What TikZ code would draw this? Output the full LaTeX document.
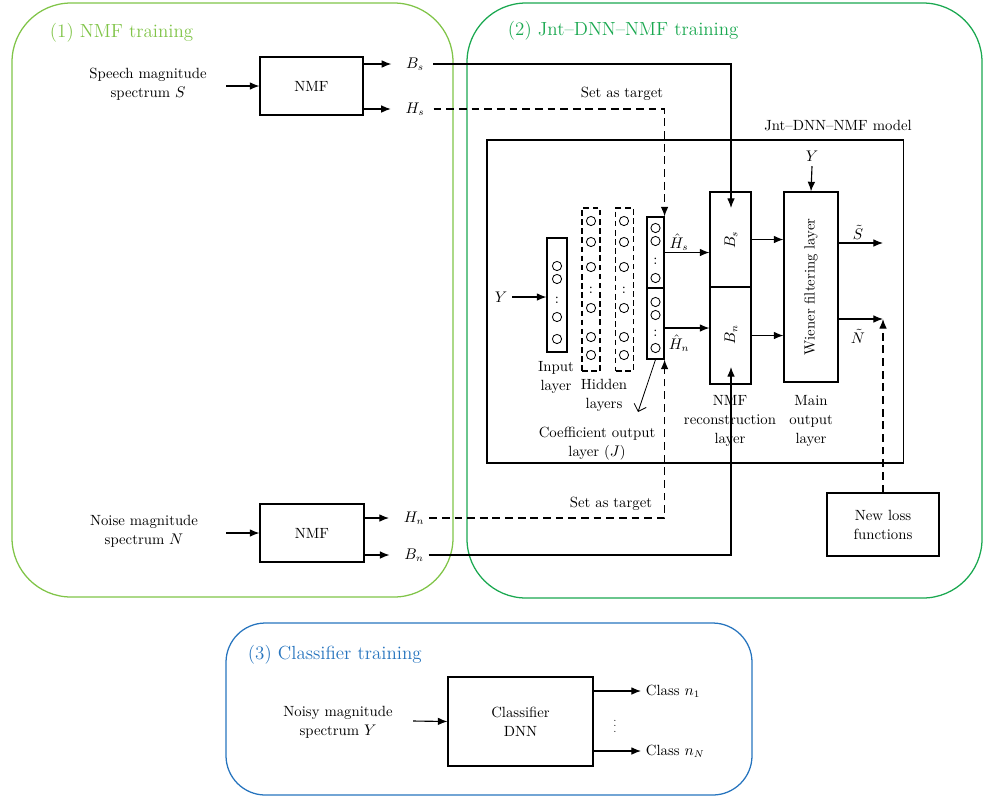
\documentclass[tikz,border=0pt]{standalone}
\usepackage{amsmath}
\usetikzlibrary{arrows.meta,positioning,calc}
\definecolor{nmfgreen}{RGB}{128,196,72}
\definecolor{jntgreen}{RGB}{26,168,80}
\definecolor{clfblue}{RGB}{38,116,190}

\begin{document}
\begin{tikzpicture}[x=0.025cm, y=-0.025cm,
  font=\fontsize{10.5}{13.5}\selectfont,
  block/.style={draw, line width=0.8pt, align=center, inner sep=0pt},
  hidden/.style={draw, dashed, dash pattern=on 4pt off 2.5pt, line width=0.8pt, inner sep=0pt},
  neuron/.style={circle, draw, line width=0.6pt, inner sep=0pt, minimum size=0.23cm},
  arrow/.style={-{Latex[length=2.4mm,width=1.9mm]}, line width=0.8pt},
  target/.style={arrow, dash pattern=on 5.5pt off 3.5pt},
  lbl/.style={align=center},
  title/.style={font=\fontsize{13.5}{16}\selectfont, anchor=west}
]
\useasboundingbox (0,0) rectangle (983,798);

% training areas
\draw[nmfgreen, line width=0.9pt, rounded corners=42pt] (12,3) rectangle (453,597);
\draw[jntgreen, line width=0.9pt, rounded corners=42pt] (467,3) rectangle (982,598);
\draw[clfblue, line width=0.9pt, rounded corners=28pt] (226,623) rectangle (752,795);
\node[title, text=nmfgreen] (title1) at (45,33) {(1) NMF training};
\node[title, text=jntgreen] (title2) at (503,31) {(2) Jnt--DNN--NMF training};
\node[title, text=clfblue] (title3) at (243,655) {(3) Classifier training};

% (1) NMF training
\node[lbl] (specS) at (148,84) {Speech magnitude\\spectrum $S$};
\node[lbl] (specN) at (144,531) {Noise magnitude\\spectrum $N$};
\coordinate (inS) at (226,86);
\coordinate (inN) at (226,533);
\node[block, minimum width=2.575cm, minimum height=1.45cm] (nmfS) at (311.5,86) {NMF};
\node[block, minimum width=2.6cm, minimum height=1.45cm] (nmfN) at (312,533) {NMF};
\node (lblBs) at (415,64) {$B_s$};
\node (lblHs) at (415,109) {$H_s$};
\node (lblHn) at (414,518) {$H_n$};
\node (lblBn) at (414,555) {$B_n$};
\draw[arrow] (inS) -- (nmfS.west);
\draw[arrow] (inN) -- (nmfN.west);
\foreach \src/\lab in {nmfS/lblBs,nmfS/lblHs,nmfN/lblHn,nmfN/lblBn}
  \draw[arrow, shorten >=7pt] (\src.east |- \lab) -- (\lab.west);

% (2) Jnt-DNN-NMF model
\node[block, minimum width=10.4cm, minimum height=8.075cm] (model) at (695,301.5) {};
\node (modelLbl) at (838,126) {Jnt--DNN--NMF model};

% DNN layers
\node[block, minimum width=0.5cm, minimum height=2.85cm] (inp) at (557,295) {};
\node[hidden, minimum width=0.45cm, minimum height=4.075cm] (hidA) at (591,289.5) {};
\node[hidden, minimum width=0.43cm, minimum height=4.075cm] (hidB) at (624.5,289.5) {};
\node[block, minimum width=0.425cm, minimum height=1.775cm] (coefT) at (655.5,252.5) {};
\node[block, minimum width=0.425cm, minimum height=1.775cm] (coefB) at (655.5,323.5) {};
\foreach \y in {266,279,317,339}
  \node[neuron] (in\y) at (557,\y) {};
\node (inDots) at (557,300) {:};
\foreach \x/\h in {591/A,624/B} {
  \foreach \y in {221,242,267,308,337,355}
    \node[neuron] (h\h\y) at (\x,\y) {};
  \node (hDots\h) at (\x,290) {:};
}
\foreach \y in {228,241,278,302,315,348}
  \node[neuron] (c\y) at (655.5,\y) {};
\node (cDotsT) at (655.5,261) {:};
\node (cDotsB) at (655.5,333) {:};

\node (lblY) at (501,297) {$Y$};
\draw[arrow] (lblY.east) -- (lblY.east -| inp.west);

\node[lbl] (inpLbl) at (556,377) {Input\\layer};
\node[lbl] (hidLbl) at (604,395) {Hidden\\layers};
\node[lbl] (coefLbl) at (597,444) {Coefficient output\\layer ($J$)};
\coordinate (coefPtr) at (638,412);
\draw[line width=0.6pt, -{Straight Barb[length=1.6mm]}] (coefB.south) -- (coefPtr);

% NMF reconstruction and Wiener layers
\node[block, minimum width=1.025cm, minimum height=2.375cm] (recBs) at (730.5,239.5) {};
\node[block, minimum width=1.025cm, minimum height=2.425cm] (recBn) at (730.5,335.5) {};
\node[rotate=90] at (731,240) {$B_s$};
\node[rotate=90] at (731,335) {$B_n$};
\node[block, minimum width=1.35cm, minimum height=4.75cm] (wien) at (811,287) {};
\node[rotate=90] (wienLbl) at (811,287) {Wiener filtering layer};
\node[lbl] (recLbl) at (730,421) {NMF\\reconstruction\\layer};
\node[lbl] (mainLbl) at (811,421) {Main\\output\\layer};

\node (lblHsHat) at (679,242) {$\hat{H}_s$};
\node (lblHnHat) at (679,343) {$\hat{H}_n$};
\draw[arrow] (coefT.east) -- (coefT.east -| recBs.west);
\draw[arrow] (coefB.east |- 0,328) -- (recBn.west |- 0,328);
\draw[arrow] (recBs.east) -- (recBs.east -| wien.west);
\draw[arrow] (recBn.east) -- (recBn.east -| wien.west);

\node (lblY2) at (812,156) {$Y$};
\draw[arrow] (lblY2.south) -- (wien.north);

\coordinate (outS) at (883,243);
\coordinate (outN) at (883,319);
\draw[arrow] (outS -| wien.east) -- (outS);
\draw[arrow] (outN -| wien.east) -- (outN);
\node (lblS) at (858,232) {$\tilde{S}$};
\node (lblN) at (858,336) {$\tilde{N}$};

\node[block, minimum width=2.8cm, minimum height=1.575cm] (loss) at (883,524.5) {New loss\\functions};
\draw[target] (loss.north) -- (outN);

% basis and target connections
\coordinate (tipBs) at (731,208);
\coordinate (tipBn) at (731,367);
\draw[arrow, shorten <=3pt] (lblBs.east) -| (tipBs);
\draw[arrow] (lblBn.east) -| (tipBn);
\draw[target, shorten <=3pt] (lblHs.east) -| (coefT.north east);
\draw[target] (lblHn.east) -| (coefB.south east);
\node (setS) at (622,94) {Set as target};
\node (setN) at (611,504) {Set as target};

% (3) Classifier training
\node[lbl] (specY) at (338,722) {Noisy magnitude\\spectrum $Y$};
\coordinate (inY) at (413,721);
\node[block, minimum width=3.625cm, minimum height=2.225cm] (clf) at (520.5,721.5) {Classifier\\DNN};
\draw[arrow] (inY) -- (clf.west);
\node[anchor=west] (cls1) at (641,691) {Class $n_1$};
\node[anchor=west] (clsN) at (641,751) {Class $n_N$};
\draw[arrow] (clf.east |- cls1) -- (cls1.west);
\draw[arrow] (clf.east |- clsN) -- (clsN.west);
\node[font=\fontsize{7}{8}\selectfont] (clsDots) at (615,722) {$\vdots$};
\end{tikzpicture}
\end{document}
